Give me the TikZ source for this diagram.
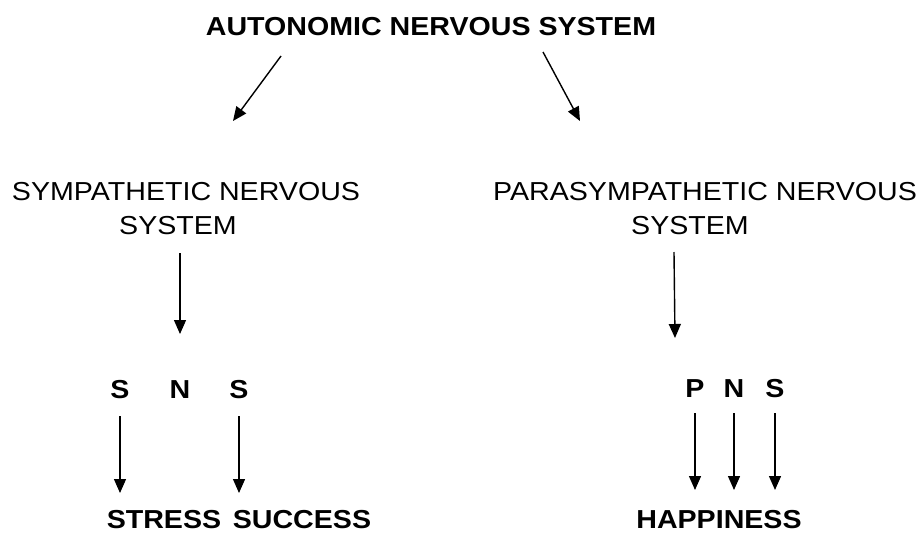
\documentclass[tikz,border=0pt]{standalone}
\usepackage{fontspec}
\setmainfont{Liberation Sans}[FakeStretch=1.1]
\usetikzlibrary{arrows.meta}

\begin{document}
\begin{tikzpicture}[x=1pt,y=-1pt,
    txt/.style={inner sep=0pt,anchor=base,font=\fontsize{26}{31}\selectfont},
    btxt/.style={txt,font=\fontsize{26}{31}\selectfont\bfseries},
    arr/.style={line width=1.4pt,-{Triangle[length=14pt,width=12pt]}}]
      \useasboundingbox (0,0) rectangle (922,533);

      % top
      \node[btxt] (ans) at (431,35) {AUTONOMIC NERVOUS SYSTEM};
      \node[txt] (sym) at (186,200) {SYMPATHETIC NERVOUS};
      \node[txt] (symsys) at (178,234) {SYSTEM};
      \node[txt] (para) at (705,200) {PARASYMPATHETIC NERVOUS};
      \node[txt] (parasys) at (690,234) {SYSTEM};

      \coordinate (ansl) at (281,56);
      \coordinate (ansr) at (543,52);
      \coordinate (syml) at (233,121);
      \coordinate (parar) at (580,121);
      \draw[arr] (ansl) -- (syml);
      \draw[arr] (ansr) -- (parar);

      % letters
      \node[btxt] (s1) at (120,398) {S};
      \node[btxt] (n1) at (180,398) {N};
      \node[btxt] (s2) at (239,398) {S};
      \node[btxt] (p3) at (695,397) {P};
      \node[btxt] (n3) at (734,397) {N};
      \node[btxt] (s3) at (775,397) {S};

      \coordinate (paratop) at (674,252);
      \coordinate (pnstop) at (675,338);
      \draw[arr] ([yshift=-19pt]symsys.base -| n1) -- ([yshift=64pt]n1.base);
      \draw[arr] (paratop) -- (pnstop);

      % results
      \node[btxt] (stress) at (164,528) {STRESS};
      \node[btxt] (succ) at (302,528) {SUCCESS};
      \node[btxt] (happy) at (719,528) {HAPPINESS};

      \draw[arr] ([yshift=-18pt]s1.base) -- ([yshift=-95pt]s1.base);
      \draw[arr] ([yshift=-18pt]s2.base) -- ([yshift=-95pt]s2.base);
      \draw[arr] ([yshift=-16pt]p3.base) -- ([yshift=-93pt]p3.base);
      \draw[arr] ([yshift=-16pt]n3.base) -- ([yshift=-93pt]n3.base);
      \draw[arr] ([yshift=-16pt]s3.base) -- ([yshift=-93pt]s3.base);
\end{tikzpicture}
\end{document}
